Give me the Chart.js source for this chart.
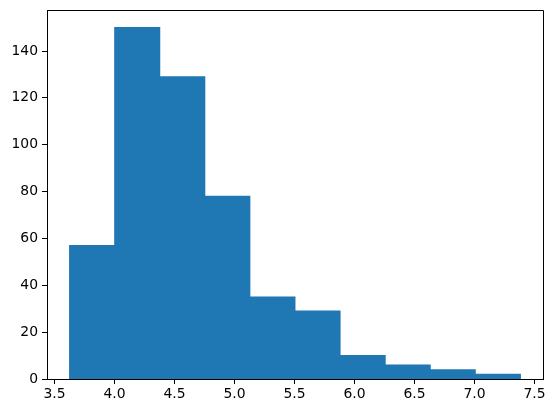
<!DOCTYPE html>
<html>
<head>
<meta charset="utf-8">
<script src="https://cdn.jsdelivr.net/npm/chart.js@4.4.1/dist/chart.umd.min.js"></script>
<style>
  html, body { margin: 0; padding: 0; background: #fff; }
  #wrap { width: 553px; height: 413px; }
</style>
</head>
<body>
<div id="wrap"><canvas id="histChart" width="553" height="413"></canvas></div>
<script>
// histogram bins (10 bins)
var binEdges = [3.625, 4.001, 4.377, 4.752, 5.128, 5.504, 5.880, 6.256, 6.631, 7.007, 7.383];
var counts = [57, 150, 129, 78, 35, 29, 10, 6, 4, 2];
var xTicks = [3.5, 4.0, 4.5, 5.0, 5.5, 6.0, 6.5, 7.0, 7.5];
var yTicks = [0, 20, 40, 60, 80, 100, 120, 140];

var barColor = '#1f77b4';
var fontFamily = "'DejaVu Sans', sans-serif";

// bar centres from bin edges
var points = counts.map(function(c, i) {
    return { x: (binEdges[i] + binEdges[i + 1]) / 2, y: c };
});

// matplotlib style 5% margins
var span = binEdges[binEdges.length - 1] - binEdges[0];
var xMin = binEdges[0] - 0.05 * span;
var xMax = binEdges[binEdges.length - 1] + 0.05 * span;
var yMax = Math.max.apply(null, counts) * 1.05;

// top/right spines
var boxPlugin = {
    id: 'box',
    afterDraw: function(chart) {
        var a = chart.chartArea, ctx = chart.ctx;
        ctx.save();
        ctx.strokeStyle = '#000';
        ctx.lineWidth = 1;
        ctx.beginPath();
        ctx.moveTo(a.left, a.top + 0.5);
        ctx.lineTo(a.right + 0.5, a.top + 0.5);
        ctx.lineTo(a.right + 0.5, a.bottom);
        ctx.stroke();
        ctx.restore();
    }
};

new Chart(document.getElementById('histChart').getContext('2d'), {
    type: 'bar',
    data: {
        datasets: [{
            data: points,
            backgroundColor: barColor,
            borderWidth: 0,
            inflateAmount: 0.5,
            barPercentage: 1,
            categoryPercentage: 1
        }]
    },
    options: {
        responsive: false,
        animation: false,
        layout: { padding: { top: 10, right: 10, left: 0, bottom: 0 } },
        plugins: {
            legend: { display: false },
            tooltip: { enabled: false }
        },
        scales: {
            x: {
                type: 'linear',
                min: xMin,
                max: xMax,
                offset: false,
                afterBuildTicks: function(scale) {
                    scale.ticks = xTicks.map(function(v) { return { value: v }; });
                },
                afterFit: function(scale) { scale.height = 34; },
                grid: {
                    offset: false,
                    drawOnChartArea: false,
                    drawTicks: true,
                    tickLength: 5,
                    tickColor: '#000'
                },
                border: { display: true, color: '#000', width: 1 },
                ticks: {
                    color: '#000',
                    padding: 2,
                    maxRotation: 0,
                    font: { family: fontFamily, size: 13.9 },
                    callback: function(v) { return v.toFixed(1); }
                }
            },
            y: {
                min: 0,
                max: yMax,
                afterBuildTicks: function(scale) {
                    scale.ticks = yTicks.map(function(v) { return { value: v }; });
                },
                afterFit: function(scale) {
                    scale.width = 47;
                    scale.paddingTop = 0;
                },
                grid: {
                    drawOnChartArea: false,
                    drawTicks: true,
                    tickLength: 5,
                    tickColor: '#000'
                },
                border: { display: true, color: '#000', width: 1 },
                ticks: {
                    color: '#000',
                    padding: 4,
                    font: { family: fontFamily, size: 13.9 }
                }
            }
        }
    },
    plugins: [boxPlugin]
});
</script>
</body>
</html>
